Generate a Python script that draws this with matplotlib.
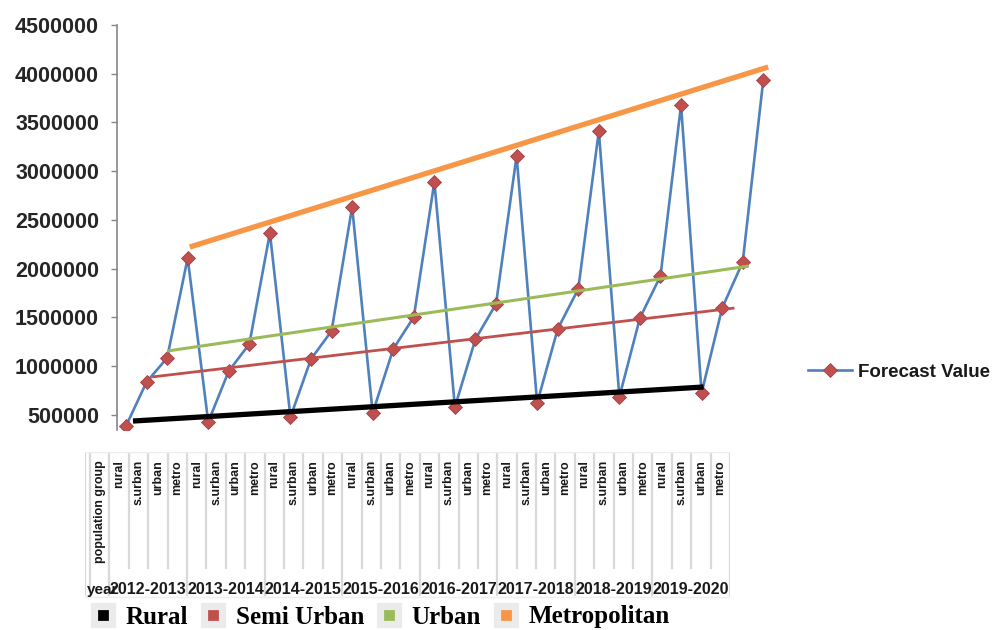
import numpy as np
import matplotlib
matplotlib.use('Agg')
from matplotlib import pyplot as plt
from matplotlib.lines import Line2D

plt.rcParams['font.family'] = ['Liberation Sans', 'DejaVu Sans']

# data
years = ['2012-2013', '2013-2014', '2014-2015', '2015-2016',
         '2016-2017', '2017-2018', '2018-2019', '2019-2020']
groups = ['rural', 's.urban', 'urban', 'metro']
rural = [387000, 428000, 479000, 521000, 582000, 623000, 685000, 726000]
semi_urban = [838000, 951000, 1074000, 1177000, 1279000, 1382000, 1495000, 1597000]
urban = [1085000, 1228000, 1362000, 1505000, 1638000, 1792000, 1926000, 2069000]
metro = [2110000, 2367000, 2633000, 2890000, 3156000, 3413000, 3679000, 3936000]

# hand drawn trend lines (category index, value)
trend_names = ['Rural', 'Semi Urban', 'Urban', 'Metropolitan']
trend_colors = ['#000000', '#C0504D', '#9BBB59', '#F79646']
trend_widths = [3.8, 2.0, 2.2, 3.8]
trend_x0 = [0.34, 1.27, 2.0, 3.1]
trend_x1 = [28.1, 29.6, 30.3, 31.24]
trend_y0 = [438000, 890000, 1156000, 2223000]
trend_y1 = [787000, 1597000, 2028000, 4069000]

forecast = []
for r, s, u, m in zip(rural, semi_urban, urban, metro):
    forecast += [r, s, u, m]
x = np.arange(len(forecast))

W, H = 999, 630
fig = plt.figure(figsize=(W / 100, H / 100), dpi=100)

def px_axes(x0, y0, x1, y1):
    return fig.add_axes([x0 / W, 1 - y1 / H, (x1 - x0) / W, (y1 - y0) / H])

ax = px_axes(117, 25, 790, 430)
ax.plot(x, forecast, color='#4F81BD', lw=1.9, marker='D', ms=7,
        mfc='#C0504D', mec='#A0404A', mew=0.6, zorder=2, clip_on=True)
for i in range(4):
    ax.plot([trend_x0[i], trend_x1[i]], [trend_y0[i], trend_y1[i]],
            color=trend_colors[i], lw=trend_widths[i], solid_capstyle='butt', zorder=3)

ax.set_xlim(-0.438, 32.3)
ax.set_ylim(346000, 4500000)
ax.set_yticks(np.arange(500000, 4500001, 500000))
ax.set_yticklabels([str(v) for v in range(500000, 4500001, 500000)])
for s in ['top', 'right', 'bottom']:
    ax.spines[s].set_visible(False)
ax.spines['left'].set_color('#868686')
ax.spines['left'].set_linewidth(1.2)
ax.set_xticks([])
ax.tick_params(axis='y', length=4, width=1, color='#868686', pad=9,
               labelsize=15.5, labelcolor='#262626')
for t in ax.get_yticklabels():
    t.set_fontweight('bold')

fc_handle = Line2D([], [], color='#4F81BD', lw=1.9, marker='D', ms=7,
                   mfc='#C0504D', mec='#A0404A', mew=0.6)
fig.legend([fc_handle], ['Forecast Value'], loc='center left',
           bbox_to_anchor=(808 / W, 1 - 372 / H), frameon=False, borderpad=0,
           borderaxespad=0, handlelength=2.35, handletextpad=0.3,
           prop={'size': 13.5, 'weight': 'bold'}, labelcolor='#1a1a1a')

# category table under the chart
tb = px_axes(85, 452, 730, 600)
tb.set_xlim(-1.26, 32)
tb.set_ylim(0, 1)
tb.axis('off')
grid_c = '#D9D9D9'
for k in range(-1, 33):
    low = 0.034 if k % 4 == 0 or k == -1 else 0.216
    tb.plot([k, k], [low, 1], color=grid_c, lw=1.6, zorder=1)
tb.plot([-1.26, -1.26], [0.034, 1], color=grid_c, lw=1.6)
tb.plot([-1.26, 32], [1, 1], color='#EEEEEE', lw=1)
tb.plot([-1.26, 32], [0.02, 0.02], color='#EEEEEE', lw=1)

tb.text(-0.5, 0.946, 'population group', rotation=90, ha='center', va='top',
        fontsize=9, fontweight='bold', color='#1a1a1a')
for j in range(len(years)):
    for g, name in enumerate(groups):
        tb.text(j * 4 + g + 0.5, 0.946, name, rotation=90, ha='center', va='top',
                fontsize=9, fontweight='bold', color='#1a1a1a')
    tb.text(j * 4 + 2, 0.068, years[j], ha='center', va='center',
            fontsize=11.5, fontweight='bold', color='#1a1a1a')
tb.text(-0.35, 0.068, 'year', ha='center', va='center',
        fontsize=11, fontweight='bold', color='#1a1a1a')

# legend for the trend lines
handles = [Line2D([], [], ls='none', marker='s', ms=12.5, mfc=c, mec='#EBEBEB', mew=5.2)
           for c in trend_colors]
fig.legend(handles, trend_names, loc='center left', ncol=4,
           bbox_to_anchor=(92 / W, 1 - 617 / H), frameon=False, borderpad=0,
           borderaxespad=0, handlelength=0.9, handletextpad=0.45, columnspacing=0.55,
           prop={'family': 'Liberation Serif', 'size': 18, 'weight': 'bold'})

fig.savefig('out.png', dpi=100)
